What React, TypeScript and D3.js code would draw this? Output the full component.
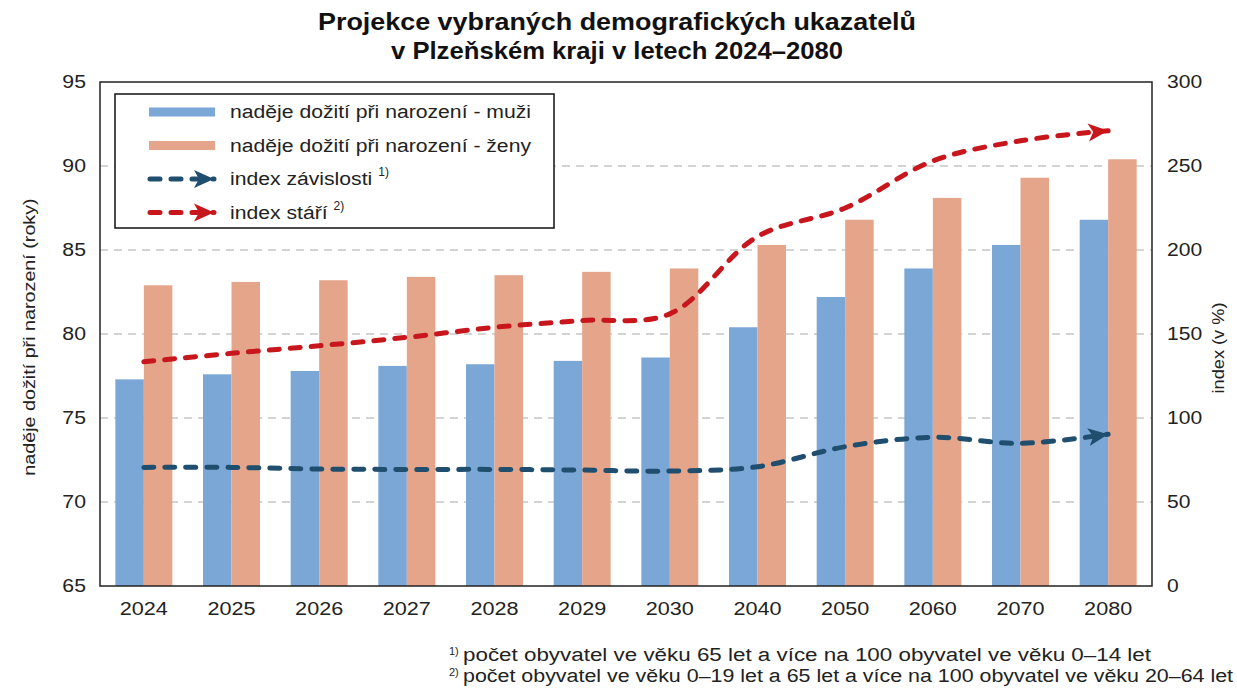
import React, { useRef, useEffect } from 'react';
import * as d3 from 'd3';

const years = ["2024", "2025", "2026", "2027", "2028", "2029", "2030", "2040", "2050", "2060", "2070", "2080"];
const lifeMen = [77.3, 77.6, 77.8, 78.1, 78.2, 78.4, 78.6, 80.4, 82.2, 83.9, 85.3, 86.8];
const lifeWomen = [82.9, 83.1, 83.2, 83.4, 83.5, 83.7, 83.9, 85.3, 86.8, 88.1, 89.3, 90.4];
const dependencyIdx = [70.6, 70.6, 69.6, 69.4, 69.4, 69.0, 68.4, 71.0, 82.9, 88.5, 84.9, 90.3];
const ageingIdx = [133.5, 138.5, 143, 148, 154, 158, 162, 208, 225, 253, 265, 271];
const leftTicks = [65, 70, 75, 80, 85, 90, 95];
const rightTicks = [0, 50, 100, 150, 200, 250, 300];

const titleLines = ["Projekce vybraných  demografických  ukazatelů", "v Plzeňském kraji v letech 2024–2080"];
const legendItems = [
  { label: "naděje dožití při narození - muži", sup: "", kind: "bar", color: "#7BA7D7" },
  { label: "naděje dožití při narození - ženy", sup: "", kind: "bar", color: "#E5A58A" },
  { label: "index závislosti", sup: "1)", kind: "line", color: "#1F4E6E" },
  { label: "index stáří", sup: "2)", kind: "line", color: "#C8161D" },
];
const footnotes = [
  { sup: "1)", text: "počet obyvatel ve věku 65 let a více na 100 obyvatel ve věku 0–14 let" },
  { sup: "2)", text: "počet obyvatel ve věku 0–19 let  a 65 let  a více na 100 obyvatel ve věku 20–64 let" },
];

const FONT = "'Liberation Sans', Arial, sans-serif";

// the reference text is a bit wider than Arial, stretch it horizontally
const stretch = (sel: any, k: number) => {
  sel.each(function (this: SVGTextElement) {
    const w = this.getComputedTextLength();
    d3.select(this).attr("textLength", w * k).attr("lengthAdjust", "spacingAndGlyphs");
  });
};

const App = () => {
  const svgRef = useRef<SVGSVGElement | null>(null);

  useEffect(() => {
    const width = 1237;
    const height = 690;
    const left = 100, right = 1152, top = 82, bottom = 586;

    const svg = d3.select(svgRef.current).attr("width", width).attr("height", height);
    svg.selectAll("*").remove();
    svg.append("rect").attr("width", width).attr("height", height).attr("fill", "#fff");

    const x = d3.scaleBand().domain(years).range([left, right]).paddingInner(0.35).paddingOuter(0.175);
    const xc = d3.scaleBand().domain(years).range([left, right]);
    const yL = d3.scaleLinear().domain([65, 95]).range([bottom, top]);
    const yR = d3.scaleLinear().domain([0, 300]).range([bottom, top]);

    const defs = svg.append("defs");
    legendItems.filter(d => d.kind === "line").forEach((d, i) => {
      defs.append("marker")
        .attr("id", "arrow" + i)
        .attr("viewBox", "0 0 20 20")
        .attr("refX", 20).attr("refY", 10)
        .attr("markerWidth", 20).attr("markerHeight", 20)
        .attr("markerUnits", "userSpaceOnUse")
        .attr("orient", "auto")
        .append("path").attr("d", "M0,1 L20,10 L0,19 L5,10 Z").attr("fill", d.color);
    });

    // gridlines
    svg.append("g").selectAll("line").data(leftTicks.slice(1, -1)).enter().append("line")
      .attr("x1", left).attr("x2", right)
      .attr("y1", d => yL(d)).attr("y2", d => yL(d))
      .attr("stroke", "#aaa").attr("stroke-width", 1).attr("stroke-dasharray", "8 6");

    // bars
    const bw = x.bandwidth() / 2;
    const g = svg.append("g");
    g.selectAll(".m").data(years).enter().append("rect")
      .attr("x", d => x(d)!).attr("width", bw)
      .attr("y", (d, i) => yL(lifeMen[i])).attr("height", (d, i) => bottom - yL(lifeMen[i]))
      .attr("fill", legendItems[0].color);
    g.selectAll(".w").data(years).enter().append("rect")
      .attr("x", d => x(d)! + bw).attr("width", bw)
      .attr("y", (d, i) => yL(lifeWomen[i])).attr("height", (d, i) => bottom - yL(lifeWomen[i]))
      .attr("fill", legendItems[1].color);

    // lines
    const line = d3.line<number>()
      .x((d, i) => xc(years[i])! + xc.bandwidth() / 2)
      .y(d => yR(d))
      .curve(d3.curveCatmullRom.alpha(0.5));
    [dependencyIdx, ageingIdx].forEach((s, i) => {
      svg.append("path").attr("d", line(s))
        .attr("fill", "none")
        .attr("stroke", legendItems[2 + i].color)
        .attr("stroke-width", 5)
        .attr("stroke-linecap", "round")
        .attr("stroke-dasharray", "10 11")
        .attr("marker-end", `url(#arrow${i})`);
    });

    // plot frame
    svg.append("rect").attr("x", left).attr("y", top).attr("width", right - left).attr("height", bottom - top)
      .attr("fill", "none").attr("stroke", "#222").attr("stroke-width", 1.5);

    // axes labels
    const lt = svg.append("g").selectAll("text").data(leftTicks).enter().append("text")
      .attr("x", 86).attr("y", d => yL(d) + 6).attr("text-anchor", "end")
      .style("font-family", FONT).style("font-size", "18px").attr("fill", "#222")
      .text(d => d);
    stretch(lt, 1.18);
    const rt = svg.append("g").selectAll("text").data(rightTicks).enter().append("text")
      .attr("x", 1167).attr("y", d => yR(d) + 6).attr("text-anchor", "start")
      .style("font-family", FONT).style("font-size", "18px").attr("fill", "#222")
      .text(d => d);
    stretch(rt, 1.17);
    const xt = svg.append("g").selectAll("text").data(years).enter().append("text")
      .attr("x", d => xc(d)! + xc.bandwidth() / 2).attr("y", 615).attr("text-anchor", "middle")
      .style("font-family", FONT).style("font-size", "18px").attr("fill", "#222")
      .text(d => d);
    stretch(xt, 1.2);

    const ly = svg.append("text")
      .attr("transform", `translate(35,${(top + bottom) / 2 + 3}) rotate(-90)`)
      .attr("text-anchor", "middle")
      .style("font-family", FONT).style("font-size", "17px").attr("fill", "#222")
      .text("naděje dožití při narození (roky)");
    stretch(ly, 1.16);
    const ry = svg.append("text")
      .attr("transform", `translate(1224,${(top + bottom) / 2 + 14}) rotate(-90)`)
      .attr("text-anchor", "middle")
      .style("font-family", FONT).style("font-size", "17px").attr("fill", "#222")
      .text("index (v %)");
    stretch(ry, 1.07);

    // title
    svg.append("g").selectAll("text").data(titleLines).enter().append("text")
      .attr("x", 617).attr("y", (d, i) => 30 + i * 29).attr("text-anchor", "middle")
      .attr("textLength", (d, i) => (i === 0 ? 598 : 452)).attr("lengthAdjust", "spacingAndGlyphs")
      .style("font-family", FONT).style("font-size", "23px").style("font-weight", "700").attr("fill", "#111")
      .text(d => d);

    // legend
    const lg = svg.append("g");
    lg.append("rect").attr("x", 115).attr("y", 94).attr("width", 439).attr("height", 134)
      .attr("fill", "#fff").attr("stroke", "#111").attr("stroke-width", 1.5);
    legendItems.forEach((d, i) => {
      const yy = 112 + i * 33.5;
      if (d.kind === "bar") {
        lg.append("rect").attr("x", 149).attr("y", yy - 4.5).attr("width", 66).attr("height", 9).attr("fill", d.color);
      } else {
        lg.append("line").attr("x1", 150).attr("x2", 214).attr("y1", yy).attr("y2", yy)
          .attr("stroke", d.color).attr("stroke-width", 5).attr("stroke-linecap", "round")
          .attr("stroke-dasharray", "10 11")
          .attr("marker-end", `url(#arrow${i - 2})`);
      }
      const t = lg.append("text").attr("x", 230).attr("y", yy + 6)
        .style("font-family", FONT).style("font-size", "18px").attr("fill", "#222")
        .text(d.label);
      const natural = (t.node() as SVGTextElement).getComputedTextLength();
      t.attr("textLength", natural * 1.175).attr("lengthAdjust", "spacingAndGlyphs");
      if (d.sup) {
        lg.append("text").attr("x", 230 + natural * 1.175 + 6).attr("y", yy - 3)
          .style("font-family", FONT).style("font-size", "12px").attr("fill", "#222").text(d.sup);
      }
    });

    // footnotes
    footnotes.forEach((f, i) => {
      const fy = 661 + i * 21;
      svg.append("text").attr("x", 449).attr("y", fy - 6)
        .style("font-family", FONT).style("font-size", "11px").attr("fill", "#222").text(f.sup);
      svg.append("text").attr("x", 463).attr("y", fy)
        .attr("textLength", i === 0 ? 688 : 770).attr("lengthAdjust", "spacingAndGlyphs")
        .style("font-family", FONT).style("font-size", "18px").attr("fill", "#222").text(f.text);
    });
  }, []);

  return (
    <svg ref={svgRef} style={{ position: "absolute", left: 0, top: 0, display: "block" }}></svg>
  );
};

export default App;
